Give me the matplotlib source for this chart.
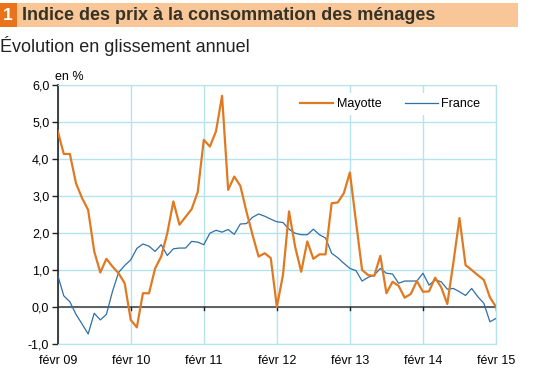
import matplotlib
matplotlib.use("Agg")
import matplotlib.pyplot as plt
from matplotlib.patches import Rectangle
import numpy as np

plt.rcParams['font.family'] = ['Liberation Sans', 'DejaVu Sans']

# Glissement annuel, mensuel de févr 09 à févr 15
mayotte = [4.75, 4.13, 4.13, 3.34, 2.94, 2.62, 1.50, 0.93, 1.30, 1.09, 0.91, 0.64,
           -0.35, -0.55, 0.37, 0.37, 1.04, 1.36, 1.99, 2.85, 2.22, 2.43, 2.64, 3.10,
           4.51, 4.33, 4.74, 5.70, 3.16, 3.52, 3.27, 2.58, 1.95, 1.36, 1.45, 1.32,
           0.00, 0.86, 2.58, 1.63, 0.95, 1.77, 1.30, 1.42, 1.42, 2.80, 2.82, 3.07,
           3.63, 2.30, 1.00, 0.86, 0.84, 1.38, 0.37, 0.68, 0.57, 0.25, 0.35, 0.70,
           0.41, 0.42, 0.79, 0.53, 0.08, 1.20, 2.40, 1.13, 1.00, 0.86, 0.73, 0.26,
           0.00]
france = [0.86, 0.30, 0.14, -0.20, -0.46, -0.73, -0.17, -0.35, -0.20, 0.42, 0.93, 1.12,
          1.27, 1.58, 1.70, 1.64, 1.50, 1.68, 1.39, 1.57, 1.59, 1.59, 1.77, 1.75,
          1.68, 1.99, 2.07, 2.02, 2.09, 1.96, 2.24, 2.25, 2.42, 2.51, 2.45, 2.37,
          2.30, 2.28, 2.10, 1.99, 1.95, 1.95, 2.10, 1.95, 1.86, 1.45, 1.33, 1.18,
          1.04, 0.98, 0.70, 0.80, 0.86, 1.04, 0.91, 0.89, 0.64, 0.70, 0.70, 0.70,
          0.91, 0.59, 0.73, 0.68, 0.48, 0.50, 0.41, 0.31, 0.50, 0.28, 0.10, -0.40,
          -0.31]
tick_labels = ['févr 09', 'févr 10', 'févr 11', 'févr 12', 'févr 13', 'févr 14', 'févr 15']

col_may = '#E07A22'
col_fr = '#2F6FA6'
col_grid = '#B5E4EF'

fig = plt.figure(figsize=(5.34, 3.77), dpi=100)

# bandeau de titre
fig.patches.append(Rectangle((0, 1 - 27/377), 518/534, 24/377, transform=fig.transFigure,
                             facecolor='#F8C697', edgecolor='none'))
fig.patches.append(Rectangle((0, 1 - 27/377), 17/534, 24/377, transform=fig.transFigure,
                             facecolor='#E8731A', edgecolor='none'))
fig.text(7.5/534, 1 - 15.5/377, '1', color='white', fontsize=12.5, fontweight='bold',
         ha='center', va='center')
fig.text(22/534, 1 - 15.5/377, 'Indice des prix à la consommation des ménages',
         color='#353228', fontsize=13, fontweight='bold', va='center')
fig.text(0/534, 1 - 46/377, 'Évolution en glissement annuel', color='#222222',
         fontsize=13, va='center')

ax = fig.add_axes([57.7/534, 1 - 344/377, (496 - 57.7)/534, (344 - 84.7)/377])
x = np.arange(len(mayotte))
ax.plot(x, mayotte, color=col_may, lw=1.6, label='Mayotte', zorder=4)
ax.plot(x, france, color=col_fr, lw=0.9, label='France', zorder=3)

ax.set_xlim(0, 72)
ax.set_ylim(-1, 6)
ax.set_yticks(np.arange(-1, 7))
ax.set_yticklabels([f'{v:.1f}'.replace('.', ',') for v in np.arange(-1, 7)], fontsize=9)
ax.set_xticks(np.arange(0, 73, 12))
ax.set_xticklabels(tick_labels, fontsize=9)
ax.grid(True, color=col_grid, lw=1)
ax.set_axisbelow(True)
ax.axhline(0, color='#555555', lw=1.3, zorder=2)
ax.tick_params(axis='x', length=0, pad=8)
ax.tick_params(axis='y', length=4, width=1, color='#222222', pad=2)
for xt in np.arange(12, 73, 12):
    ax.plot([xt, xt], [0, -0.09], color='#222222', lw=1, zorder=2)
for s in ['top', 'right', 'bottom']:
    ax.spines[s].set_color(col_grid)
ax.spines['left'].set_color('#222222')
ax.spines['left'].set_linewidth(1.2)

ax.text(-0.5, 6.05, 'en %', fontsize=9, va='bottom', ha='left')

leg = ax.legend(loc='upper right', ncol=2, frameon=True, fontsize=9,
                handlelength=2.6, handletextpad=0.3, columnspacing=1.9,
                borderaxespad=0.15, bbox_to_anchor=(0.98, 0.975))
leg.get_frame().set_facecolor('white')
leg.get_frame().set_edgecolor('none')
leg.get_frame().set_alpha(1)

fig.savefig('out.png', dpi=100)
